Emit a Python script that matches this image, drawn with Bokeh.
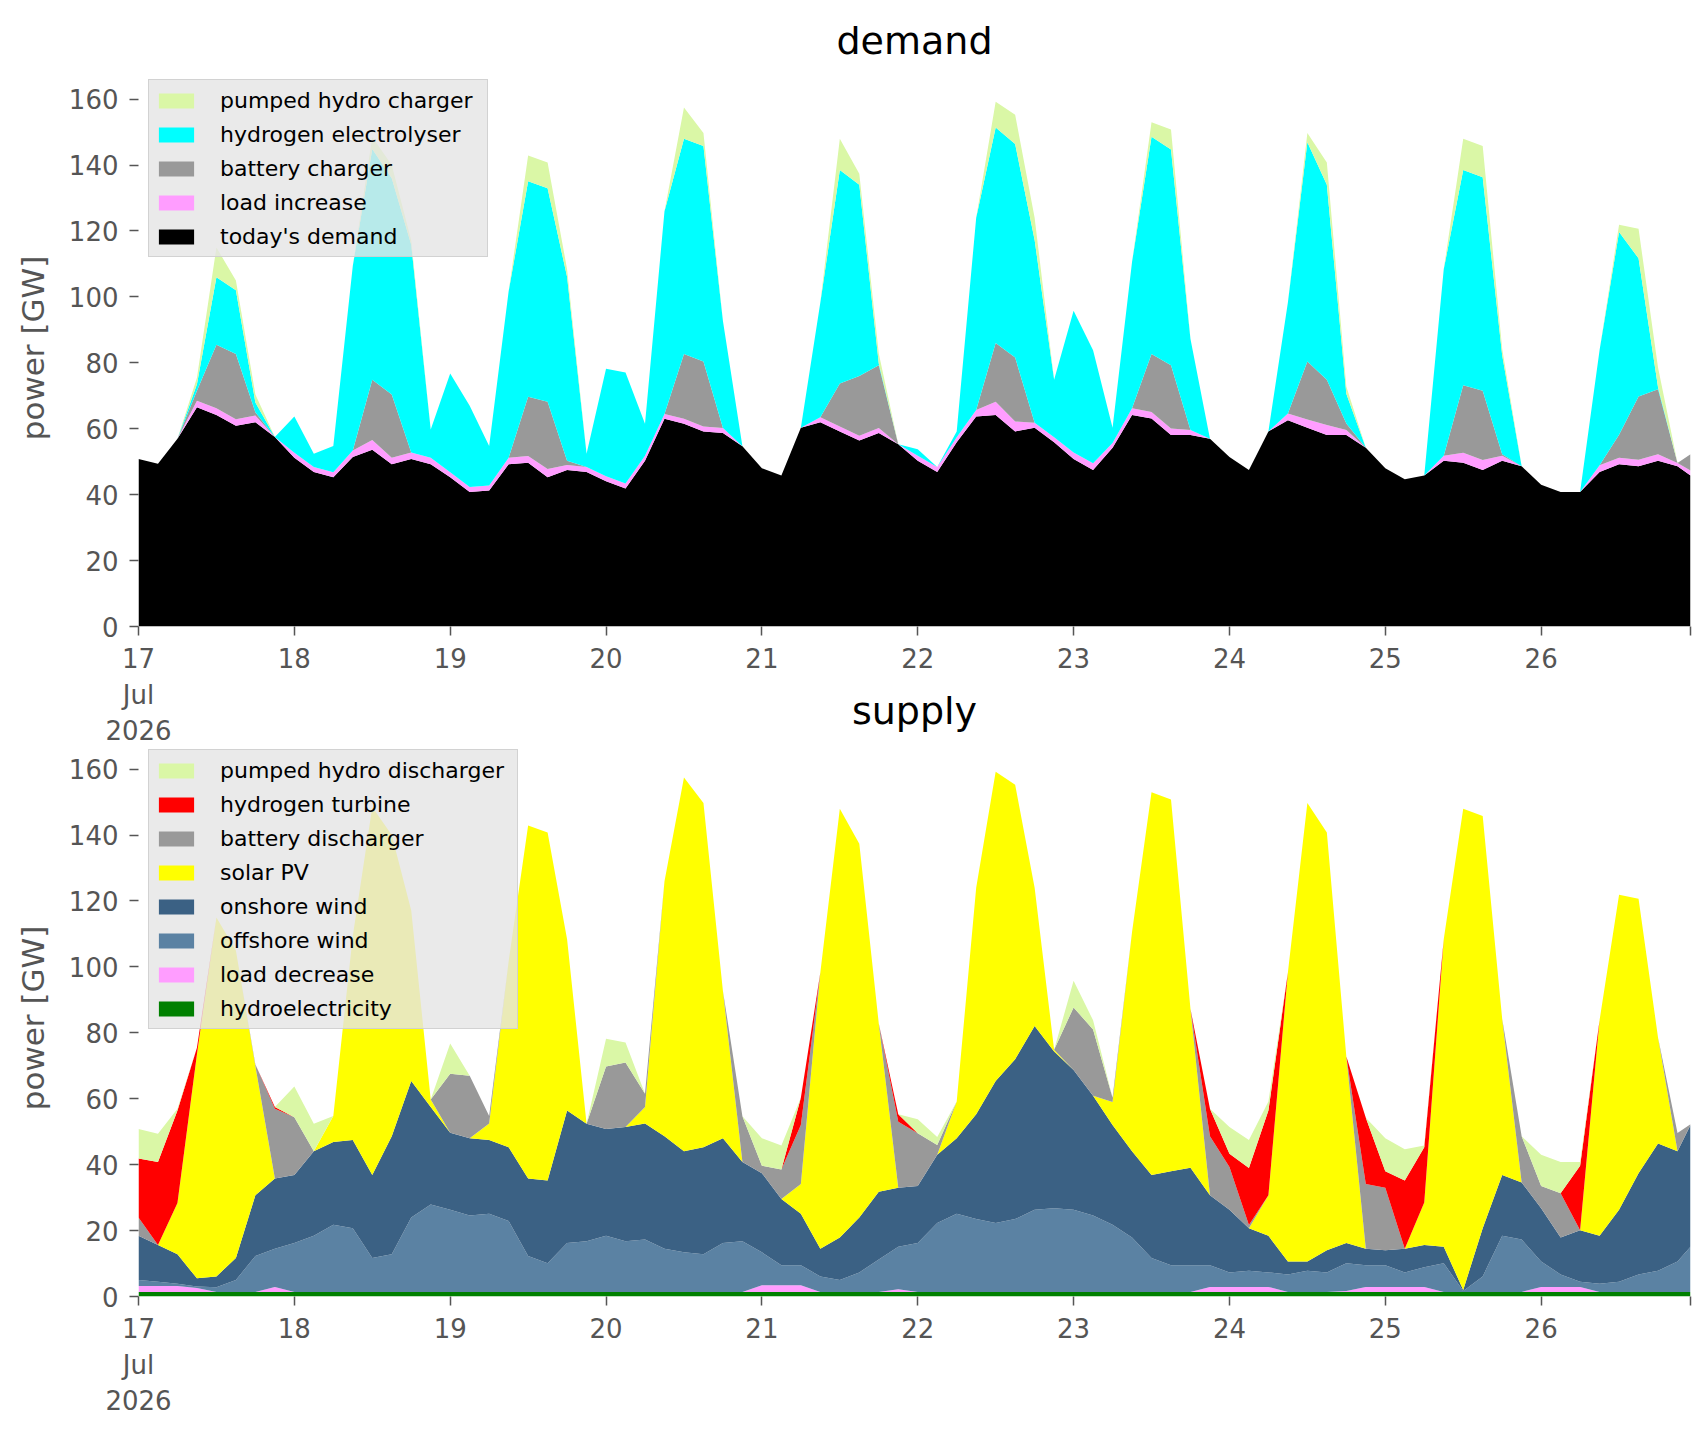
# Demand and supply for 17 to 26 July 2026, as stacked areas (values every 3 hours)
import pandas as pd
from bokeh.embed import file_html
from bokeh.layouts import column
from bokeh.models import ColumnDataSource, FixedTicker, Legend, LegendItem, Range1d
from bokeh.plotting import figure
from bokeh.resources import INLINE

# %%
# time axis: hours after 17 Jul 2026 00:00
start = pd.Timestamp("2026-07-17 00:00")
hours = list(range(0, 238, 3)) + [239]
day_labels = ["17\nJul\n2026", "18", "19", "20", "21", "22", "23", "24", "25", "26"]

# demand side [GW], one row per day, last value = 26 Jul 23:00
todays_demand = [
    50.8, 49.4, 57.0, 66.5, 64.2, 60.9, 62.0, 57.5,
    51.2, 46.9, 45.3, 51.4, 53.6, 49.2, 50.8, 49.2,
    45.3, 40.8, 41.3, 49.2, 49.7, 45.3, 47.5, 46.9,
    44.1, 41.9, 50.3, 63.0, 61.5, 59.2, 58.7, 54.7,
    48.0, 45.8, 60.3, 62.0, 59.2, 56.4, 58.7, 55.3,
    50.3, 46.9, 55.9, 63.7, 64.2, 59.2, 60.3, 55.9,
    50.8, 47.5, 54.2, 64.2, 63.1, 58.1, 58.1, 57.0,
    51.4, 47.5, 59.2, 62.6, 60.3, 58.1, 58.1, 54.2,
    48.0, 44.7, 45.8, 50.3, 49.7, 47.5, 50.3, 48.6,
    43.0, 40.8, 40.8, 46.9, 49.2, 48.6, 50.3, 48.6,
    45.8,
]
load_increase = [
    0, 0, 0, 2, 2, 2, 2, 0,
    1.5, 1.5, 1.5, 2, 3, 2, 2, 2,
    1.5, 1.5, 1.5, 2, 2, 2.5, 1.5, 1.5,
    1.5, 1.5, 1.5, 1.5, 1.5, 1.5, 1.5, 0,
    0, 0, 0, 1.5, 1.5, 1.5, 1.5, 0,
    1.5, 1.5, 1.5, 2, 4, 3, 1.5, 1.5,
    2, 2, 1.5, 2, 2, 2, 1.5, 0,
    0, 0, 0, 2, 2.5, 3, 1.5, 0,
    0, 0, 0, 1.5, 3, 3, 1.5, 0,
    0, 0, 0, 2, 2, 2, 2, 1,
    1.5,
]
battery_charger = [
    0, 0, 0, 3, 19.3, 19.8, 1, 0,
    0, 0, 0, 0, 18.3, 19.2, 0, 0,
    0, 0, 0, 0, 18, 20.4, 1.3, 0,
    0, 0, 0, 0, 19.7, 19.7, 0, 0,
    0, 0, 0, 0, 13, 18.1, 19.1, 0,
    0, 0, 0, 0, 17.8, 19.4, 0, 0,
    0, 0, 0, 0, 17.6, 19.2, 0, 0,
    0, 0, 0, 0, 17.6, 13.8, 2, 0,
    0, 0, 0, 0, 20.5, 21, 0.5, 0,
    0, 0, 0, 0, 7, 19.2, 19.7, 0,
    5,
]
hydrogen_electrolyser = [
    0, 0, 0, 2, 20.5, 19.3, 3, 0,
    11, 4, 8, 56, 70, 65.6, 63, 8.6,
    30, 24.7, 12, 50.5, 65.4, 64.8, 55.8, 4,
    32.6, 33.7, 9.7, 61.5, 65.3, 65.4, 32.5, 0,
    0, 0, 0, 34.8, 64.8, 58, 0.5, 0,
    2, 0, 1.8, 58.3, 65.4, 64.8, 55.5, 17.5,
    43, 34.3, 4.6, 44.4, 65.9, 65.4, 27.6, 0,
    0, 0, 0, 33.7, 66.5, 59.1, 9, 0,
    0, 0, 0, 56.6, 65.3, 64.8, 30, 0,
    0, 0, 0, 35, 61.5, 41.9, 0.6, 0,
    0,
]
pumped_hydro_charger = [
    0, 0, 0, 2, 9, 3, 2.4, 0,
    0, 0, 0, 0, 3.6, 4, 1.3, 0,
    0, 0, 0, 0, 7.8, 7.8, 2.3, 0,
    0, 0, 0, 0, 9.5, 3.9, 0, 0,
    0, 0, 0, 0, 9.5, 3.4, 3, 0,
    0, 0, 0, 0, 7.8, 8.9, 6.7, 0,
    0, 0, 0, 0, 4.4, 6.1, 0, 0,
    0, 0, 0, 0, 2.8, 6.8, 2.2, 0,
    0, 0, 0, 0, 9.5, 9.5, 2, 0,
    0, 0, 0, 0, 2.2, 9, 6, 0,
    0,
]

# supply side [GW]
hydroelectricity = [
    1.4, 1.4, 1.4, 1.4, 1.4, 1.4, 1.4, 1.4,
    1.4, 1.4, 1.4, 1.4, 1.4, 1.4, 1.4, 1.4,
    1.4, 1.4, 1.4, 1.4, 1.4, 1.4, 1.4, 1.4,
    1.4, 1.4, 1.4, 1.4, 1.4, 1.4, 1.4, 1.4,
    1.4, 1.4, 1.4, 1.4, 1.4, 1.4, 1.4, 1.4,
    1.4, 1.4, 1.4, 1.4, 1.4, 1.4, 1.4, 1.4,
    1.4, 1.4, 1.4, 1.4, 1.4, 1.4, 1.4, 1.4,
    1.4, 1.4, 1.4, 1.4, 1.4, 1.4, 1.4, 1.4,
    1.4, 1.4, 1.4, 1.4, 1.4, 1.4, 1.4, 1.4,
    1.4, 1.4, 1.4, 1.4, 1.4, 1.4, 1.4, 1.4,
    1.4,
]
load_decrease = [
    1.8, 1.8, 1.8, 1.2, 0, 0, 0, 1.5,
    0, 0, 0, 0, 0, 0, 0, 0,
    0, 0, 0, 0, 0, 0, 0, 0,
    0, 0, 0, 0, 0, 0, 0, 0,
    2, 2, 2, 0, 0, 0, 0, 0.8,
    0, 0, 0, 0, 0, 0, 0, 0,
    0, 0, 0, 0, 0, 0, 0, 1.5,
    1.5, 1.5, 1.5, 0, 0, 0, 0.3, 1.5,
    1.5, 1.5, 1.5, 0, 0, 0, 0, 0,
    1.5, 1.5, 1.5, 0, 0, 0, 0, 0,
    0,
]
offshore_wind = [
    1.8, 1.3, 0.7, 0.4, 1.4, 3.6, 10.9, 11.6,
    14.8, 17.0, 20.4, 19.3, 10.3, 11.4, 22.6, 26.5,
    24.9, 23.2, 23.7, 21.5, 10.9, 8.7, 14.8, 15.4,
    17.0, 15.4, 15.9, 13.1, 12.0, 11.4, 14.8, 15.4,
    10.0, 6.1, 6.1, 4.7, 3.6, 5.9, 9.8, 12.9,
    14.8, 20.9, 23.7, 22.1, 20.9, 22.1, 24.9, 25.4,
    24.9, 23.2, 20.4, 16.5, 10.3, 8.1, 8.1, 6.6,
    4.4, 4.9, 4.4, 5.3, 6.4, 5.9, 8.4, 6.6,
    6.6, 4.4, 6.0, 8.7, 0.3, 4.7, 17.0, 15.9,
    7.7, 3.8, 1.6, 2.5, 3.1, 5.3, 6.4, 9.2,
    13.7,
]
onshore_wind = [
    13.4, 11.1, 8.9, 2.5, 3.3, 6.7, 18.4, 21.3,
    20.7, 25.7, 25.1, 26.8, 25.2, 35.8, 41.4, 29.6,
    23.4, 23.4, 22.4, 22.4, 23.5, 25.1, 40.2, 35.6,
    32.4, 34.6, 35.2, 34.1, 30.7, 32.5, 31.8, 24,
    24, 20.1, 15.6, 8.4, 12.9, 16.7, 20.6, 17.9,
    17.3, 20.7, 22.9, 31.8, 43.1, 48.5, 55.8, 47.5,
    42.4, 36.3, 30.2, 26.2, 25.2, 28.5, 29.6, 21.2,
    19, 12.9, 11.1, 3.9, 2.8, 6.7, 6.1, 5,
    4.5, 7.2, 6.7, 5, 0.3, 14.6, 18.5, 17.3,
    16.2, 11.2, 15.6, 14.5, 21.8, 30.7, 38.6, 33.5,
    36.9,
]
solar_pv = [
    0, 0, 15.6, 68, 108.9, 93.3, 39.2, 0,
    0, 0, 7.9, 61.9, 111.6, 91.4, 51.7, 2.3,
    0, 0, 5, 56.4, 107.1, 105.6, 52, 0,
    0, 0, 5, 77.4, 113.4, 104.4, 44.7, 0,
    0, 0, 9, 83.8, 130.1, 113.4, 51, 0,
    0, 0, 11.2, 68.7, 93.8, 83.3, 41.9, 0.6,
    0, 0, 7, 66.5, 116.1, 112.8, 48.1, 0,
    0, 0, 12.3, 87.7, 139.1, 126.8, 56.6, 0,
    0, 0, 12.9, 93.3, 146, 125.1, 47.4, 0,
    0, 0, 0, 65.5, 95.6, 83.3, 32.2, 0,
    0,
]
battery_discharger = [
    5.6, 0, 0, 0, 0, 0, 0.5, 21.2,
    17.5, 0, 0, 0, 0, 0, 0, 0,
    17.9, 19, 2.3, 0, 0, 0, 0, 0,
    19, 19.6, 4, 0, 0, 0, 0, 13.9,
    2.3, 8.9, 17.9, 0, 0, 0, 0, 20,
    16, 3, 0, 0, 0, 0, 0, 0,
    19, 20.1, 1.3, 0, 0, 0, 0, 17.9,
    13, 1, 0, 0, 0, 0, 0, 19.6,
    19, 0, 0, 0, 0, 0, 0, 14,
    6.7, 13.4, 0, 0, 0, 0, 0, 5.5,
    0.3,
]
hydrogen_turbine = [
    17.9, 25.2, 28, 2, 0, 0, 0, 0.5,
    0, 0, 0, 0, 0, 0, 0, 0,
    0, 0, 0, 0, 0, 0, 0, 0,
    0, 0, 0, 0, 0, 0, 0, 0,
    0, 0, 8.3, 0, 0, 0, 0, 2.3,
    0, 0, 0, 0, 0, 0, 0, 0,
    0, 0, 0, 0, 0, 0, 0, 8.4,
    4, 17.3, 25.7, 0, 0, 0, 0, 20.1,
    5, 20.7, 16.8, 0, 0, 0, 0, 0,
    0, 0, 19.6, 0, 0, 0, 0, 0,
    0,
]
pumped_hydro_discharger = [
    8.9, 8.6, 0.6, 0, 0, 0, 0, 0,
    9.3, 8.3, 0, 0, 0, 0, 0, 0,
    9.2, 0, 0, 0, 0, 0, 0, 0,
    8.4, 6.1, 0, 0, 0, 0, 0, 0,
    8.3, 7.3, 0, 0, 0, 0, 0, 0,
    4.3, 2.4, 0, 0, 0, 0, 0, 0,
    8.1, 2.8, 0, 0, 0, 0, 0, 0,
    8.1, 8.5, 2.8, 0, 0, 0, 0, 0,
    10, 9.5, 0.5, 0, 0, 0, 0, 0,
    9.5, 9.5, 1.1, 0, 0, 0, 0, 0,
    0,
]

# %%
times = [start + pd.Timedelta(hours=h) for h in hours]

demand_layers = [
    ("todays_demand", "today's demand", "#000000"),
    ("load_increase", "load increase", "#ff9dff"),
    ("battery_charger", "battery charger", "#999999"),
    ("hydrogen_electrolyser", "hydrogen electrolyser", "#00ffff"),
    ("pumped_hydro_charger", "pumped hydro charger", "#daf7a6"),
]
supply_layers = [
    ("hydroelectricity", "hydroelectricity", "#008000"),
    ("load_decrease", "load decrease", "#ff9dff"),
    ("offshore_wind", "offshore wind", "#5b82a3"),
    ("onshore_wind", "onshore wind", "#3b6184"),
    ("solar_pv", "solar PV", "#ffff00"),
    ("battery_discharger", "battery discharger", "#999999"),
    ("hydrogen_turbine", "hydrogen turbine", "#ff0000"),
    ("pumped_hydro_discharger", "pumped hydro discharger", "#daf7a6"),
]

source_demand = ColumnDataSource(data=dict(
    t=times, todays_demand=todays_demand, load_increase=load_increase,
    battery_charger=battery_charger, hydrogen_electrolyser=hydrogen_electrolyser,
    pumped_hydro_charger=pumped_hydro_charger))
source_supply = ColumnDataSource(data=dict(
    t=times, hydroelectricity=hydroelectricity, load_decrease=load_decrease,
    offshore_wind=offshore_wind, onshore_wind=onshore_wind, solar_pv=solar_pv,
    battery_discharger=battery_discharger, hydrogen_turbine=hydrogen_turbine,
    pumped_hydro_discharger=pumped_hydro_discharger))

FONT = "DejaVu Sans"
GREY = "#555555"

day_ticks = [(start + pd.Timedelta(days=d)).timestamp() * 1000 for d in range(len(day_labels))]
end_tick = times[-1].timestamp() * 1000
overrides = dict(zip(day_ticks, day_labels))
overrides[end_tick] = ""


def make_plot(title, source, layers, label_width):
    p = figure(title=title, width=1698, height=748, x_axis_type="datetime",
               x_range=Range1d(start=times[0], end=times[-1]), y_range=Range1d(start=0, end=169),
               output_backend="svg", toolbar_location=None,
               min_border_left=138, min_border_right=8, min_border_top=69, min_border_bottom=120)
    names = [n for n, _, _ in layers]
    colors = [c for _, _, c in layers]
    renderers = p.varea_stack(stackers=names, x="t", color=colors, source=source)

    items = [LegendItem(label=lab, renderers=[r]) for (_, lab, _), r in zip(layers, renderers)]
    legend = Legend(items=items[::-1], location="top_left", margin=10, padding=5, spacing=4,
                    glyph_width=44, glyph_height=19, label_height=30, label_width=label_width,
                    label_standoff=22,
                    label_text_font=FONT, label_text_font_size="22px", label_text_color="black",
                    background_fill_color="#e5e5e5", background_fill_alpha=0.8,
                    border_line_color="#cccccc", border_line_alpha=0.8)
    p.add_layout(legend)

    p.title.align = "center"
    p.title.text_font = FONT
    p.title.text_font_size = "38px"
    p.title.text_font_style = "normal"
    p.title.text_color = "black"
    p.title.standoff = 14

    p.xgrid.visible = False
    p.ygrid.visible = False
    p.outline_line_color = None

    p.xaxis.ticker = FixedTicker(ticks=day_ticks + [end_tick])
    p.xaxis.major_label_overrides = overrides
    p.yaxis.ticker = FixedTicker(ticks=[0, 20, 40, 60, 80, 100, 120, 140, 160])
    p.yaxis.axis_label = "power [GW]"
    p.yaxis.axis_label_text_font = FONT
    p.yaxis.axis_label_text_font_size = "31px"
    p.yaxis.axis_label_text_font_style = "normal"
    p.yaxis.axis_label_text_color = GREY
    p.yaxis.axis_label_standoff = 15
    p.yaxis.major_label_standoff = 11
    p.xaxis.major_label_standoff = 8
    for ax in (p.xaxis, p.yaxis):
        ax.axis_line_color = None
        ax.major_tick_line_color = GREY
        ax.major_tick_line_width = 1.5
        ax.major_tick_out = 9
        ax.major_tick_in = 0
        ax.minor_tick_line_color = None
        ax.major_label_text_font = FONT
        ax.major_label_text_font_size = "26px"
        ax.major_label_text_color = GREY
    return p


p_demand = make_plot("demand", source_demand, demand_layers, 262)
p_supply = make_plot("supply", source_supply, supply_layers, 292)
# the supply title sits beside the date labels of the upper plot
p_supply.margin = (-78, 0, 0, 0)
p_supply.border_fill_alpha = 0
p_supply.background_fill_alpha = 0

p = column(p_demand, p_supply)
open("out.html", "w").write(file_html(p, INLINE))
